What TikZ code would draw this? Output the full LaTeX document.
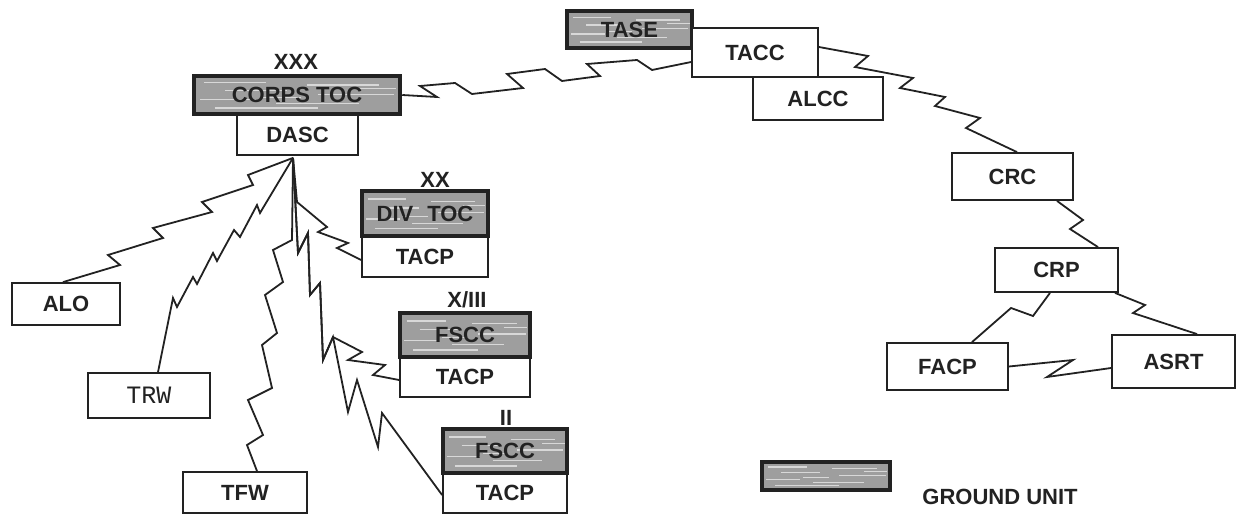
\documentclass[tikz,border=0pt]{standalone}
\usepackage{fontspec}
\setmainfont{Liberation Sans}
\newfontfamily\monofont{Liberation Mono}
\usetikzlibrary{calc}
\definecolor{ink}{HTML}{222222}
\newcommand\gstreaks{%
  \foreach \fy/\fa/\fb in {0.18/0.05/0.35, 0.24/0.55/0.9, 0.38/0.15/0.45, 0.48/0.6/0.97,
      0.62/0.03/0.3, 0.72/0.4/0.8, 0.84/0.1/0.6, 0.33/0.8/0.98, 0.56/0.32/0.52}{%
    \draw[white, opacity=0.6, line width=1.3pt]
      ($($(path picture bounding box.north west)!\fy!(path picture bounding box.south west)$)!\fa!($(path picture bounding box.north east)!\fy!(path picture bounding box.south east)$)$)
      -- ($($(path picture bounding box.north west)!\fy!(path picture bounding box.south west)$)!\fb!($(path picture bounding box.north east)!\fy!(path picture bounding box.south east)$)$);
  }}
\begin{document}
\begin{tikzpicture}[x=1pt,y=-1pt,
  box/.style={draw=ink, line width=1.8pt, fill=white, inner sep=0pt,
    font=\bfseries\fontsize{22}{26}\selectfont, text=ink},
  ground/.style={box, line width=4.5pt, fill=black!38, path picture={\gstreaks}},
  gtext/.style={font=\bfseries\fontsize{22}{26}\selectfont, text=ink, inner sep=0pt},
  link/.style={draw=ink, line width=1.8pt, line join=miter},
  lbl/.style={font=\bfseries\fontsize{22}{26}\selectfont, text=ink, inner sep=0pt}]
\useasboundingbox (0,0) rectangle (1238,518);

% left group
\node[box, minimum width=121pt, minimum height=41pt] (dasc) at (297.5,134.5) {DASC};
\node[ground, minimum width=206pt, minimum height=38pt] (corps) at (297,95) {};
\node[gtext] (corpst) at (corps.center) {CORPS TOC};
\node[lbl] (l3) at (296,62) {XXX};

\node[box, minimum width=108pt, minimum height=42pt] (alo) at (66,304) {ALO};
\node[box, minimum width=122pt, minimum height=45pt, font=\monofont\fontsize{25}{28}\selectfont] (trw) at (149,395.5) {TRW};
\node[box, minimum width=124pt, minimum height=41pt] (tfw) at (245,492.5) {TFW};

\node[box, minimum width=126pt, minimum height=41pt] (tacp1) at (425,256.5) {TACP};
\node[ground, minimum width=126pt, minimum height=45pt] (div) at (425,213.5) {};
\node[gtext] (divt) at (div.center) {DIV\hspace{14pt}TOC};
\node[lbl] (l2) at (435,180) {XX};

\node[box, minimum width=130pt, minimum height=40pt] (tacp2) at (465,377) {TACP};
\node[ground, minimum width=130pt, minimum height=44pt] (fscc1) at (465,335) {};
\node[gtext] (fscc1t) at (fscc1.center) {FSCC};
\node[lbl] (l1) at (467,300) {X/III};

\node[box, minimum width=124pt, minimum height=40pt] (tacp3) at (505,493) {TACP};
\node[ground, minimum width=124pt, minimum height=44pt] (fscc2) at (505,451) {};
\node[gtext] (fscc2t) at (fscc2.center) {FSCC};
\node[lbl] (l0) at (506,418) {II};

% top group
\node[ground, minimum width=125pt, minimum height=37pt] (tase) at (629.5,29.5) {};
\node[gtext] (taset) at (tase.center) {TASE};
\node[box, minimum width=126pt, minimum height=49pt] (tacc) at (755,52.5) {TACC};
\node[box, minimum width=130pt, minimum height=43pt] (alcc) at (818,98.5) {ALCC};

% right group
\node[box, minimum width=121pt, minimum height=47pt] (crc) at (1012.5,176.5) {CRC};
\node[box, minimum width=123pt, minimum height=44pt] (crp) at (1056.5,270) {CRP};
\node[box, minimum width=121pt, minimum height=47pt] (facp) at (947.5,366.5) {FACP};
\node[box, minimum width=123pt, minimum height=53pt] (asrt) at (1173.5,361.5) {ASRT};

% legend
\node[ground, minimum width=128pt, minimum height=28pt] (leg) at (826,476) {};
\node[lbl] (legt) at (1000,497) {GROUND UNIT};

% connectors
\coordinate (hub) at ($(dasc.south)+(-4.5,2)$);

\draw[link] (corps.east) -- (437,97) -- (420,86) -- (455,83) -- (472,94) -- (523,88)
  -- (507,74) -- (545,69) -- (562,81) -- (600,76) -- (587,64) -- (637,60) -- (652,70)
  -- ($(tacc.west)+(0,9.5)$);
\draw[link] ($(tacc.east)+(0,-5.5)$) -- (868,56) -- (855,67) -- (913,78) -- (900,88)
  -- (945,97) -- (935,106) -- (980,118) -- (966,128) -- ($(crc.north)+(4.5,0)$);
\draw[link] ($(crc.south)+(44.5,0)$) -- (1083,220) -- (1070,229) -- ($(crp.north)+(41.5,0)$);
\draw[link] ($(crp.south)+(-6.5,0)$) -- (1033,316) -- (1011,308) -- ($(facp.north)+(24.5,0)$);
\draw[link] ($(crp.south)+(58.5,0)$) -- (1145,305) -- (1133,313) -- ($(asrt.north)+(23.5,0)$);
\draw[link] (facp.east) -- (1073,360) -- (1047,377) -- ($(asrt.west)+(0,6.5)$);

\draw[link] (hub) -- (248,175) -- (253,185) -- (202,202) -- (212,212) -- (153,228)
  -- (163,238) -- (108,255) -- (120,265) -- ($(alo.north)+(-3,0)$);
\draw[link] (hub) -- (260,213) -- (257,205) -- (240,237) -- (234,230) -- (217,261)
  -- (213,253) -- (197,284) -- (193,277) -- (177,307) -- (173,298) -- ($(trw.north)+(9,0)$);
\draw[link] (hub) -- (292,240) -- (273,250) -- (283,282) -- (265,295) -- (277,333)
  -- (262,345) -- (272,388) -- (248,400) -- (263,435) -- (247,445) -- ($(tfw.north)+(12,0)$);
\draw[link] (hub) -- (297,202) -- (327,227) -- (318,232) -- (348,243) -- (337,248)
  -- ($(tacp1.west)+(0,3.5)$);
\draw[link] (hub) -- (298,253) -- (308,233) -- (310,295) -- (320,283) -- (323,360)
  -- (333,337) -- (362,352) -- (348,360) -- (385,365) -- (373,375) -- ($(tacp2.west)+(0,3)$);
\draw[link] (hub) -- (298,253) -- (308,233) -- (310,295) -- (320,283) -- (323,360)
  -- (333,337) -- (348,412) -- (357,380) -- (378,447) -- (382,413) -- ($(tacp3.west)+(0,2)$);
\end{tikzpicture}
\end{document}
